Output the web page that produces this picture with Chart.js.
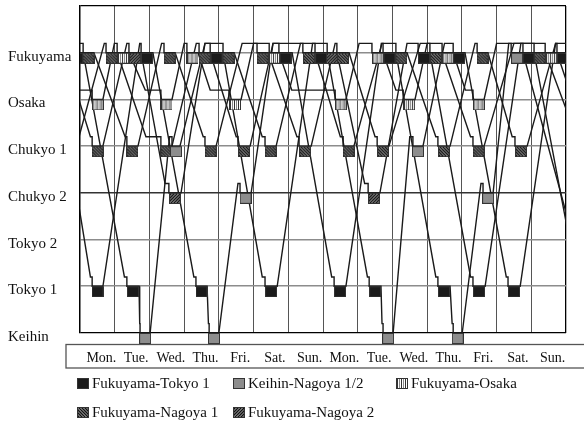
<!DOCTYPE html>
<html>
<head>
<meta charset="utf-8">
<script src="https://cdn.jsdelivr.net/npm/chart.js@4.4.0/dist/chart.umd.min.js"></script>
<style>
  html, body { margin: 0; padding: 0; background: #fff; }
  canvas { display: block; }
</style>
</head>
<body>
<canvas id="myChart" width="584" height="421"></canvas>
<script>
// rows of the diagram, bottom to top
const rowNames = ['Keihin', 'Tokyo 1', 'Tokyo 2', 'Chukyo 2', 'Chukyo 1', 'Osaka', 'Fukuyama'];
const dayNames = ['Mon.', 'Tue.', 'Wed.', 'Thu.', 'Fri.', 'Sat.', 'Sun.',
                  'Mon.', 'Tue.', 'Wed.', 'Thu.', 'Fri.', 'Sat.', 'Sun.'];

const loadNames = { T1: 'Fukuyama-Tokyo 1', KN: 'Keihin-Nagoya 1/2', OS: 'Fukuyama-Osaka',
                    N1: 'Fukuyama-Nagoya 1', N2: 'Fukuyama-Nagoya 2' };

// one stop = [arrive, start of work, end of work, place, load]  (days)
const truckOsaka = [
    [-0.1, 0.35, 0.66, 'Osaka', 'OS'],
    [0.99, 1.07, 1.41, 'Fukuyama', 'OS'],
    [1.88, 2.33, 2.65, 'Osaka', 'OS'],
    [3.0, 3.08, 3.40, 'Fukuyama', 'OS'],
    [3.75, 4.29, 4.64, 'Osaka', 'OS'],
    [5.0, 5.45, 5.73, 'Fukuyama', 'OS'],
    [6.1, 7.35, 7.66, 'Osaka', 'OS'],
    [8.04, 8.41, 8.73, 'Fukuyama', 'OS'],
    [9.1, 9.31, 9.65, 'Osaka', 'OS'],
    [10.0, 10.43, 10.75, 'Fukuyama', 'OS'],
    [11.1, 11.32, 11.64, 'Osaka', 'OS'],
    [12.0, 13.40, 13.74, 'Fukuyama', 'OS'],
    [14.1, 14.4, 14.7, 'Osaka', null]
];

const truckTokyoA = [
    [-1.0, -1.0, -0.75, 'Fukuyama', null],
    [0.3, 0.35, 0.66, 'Tokyo 1', 'T1'],
    [1.72, 1.76, 2.10, 'Fukuyama', 'T1'],
    [3.28, 3.34, 3.66, 'Tokyo 1', 'T1'],
    [3.70, 3.72, 4.00, 'Keihin', 'KN'],
    [4.55, 4.61, 4.93, 'Chukyo 2', 'KN'],
    [5.56, 5.73, 6.11, 'Fukuyama', 'T1'],
    [7.25, 7.32, 7.66, 'Tokyo 1', 'T1'],
    [8.68, 8.73, 9.10, 'Fukuyama', 'T1'],
    [10.25, 10.31, 10.66, 'Tokyo 1', 'T1'],
    [10.72, 10.75, 11.01, 'Keihin', 'KN'],
    [11.55, 11.61, 11.90, 'Chukyo 2', 'KN'],
    [12.35, 12.42, 12.76, 'Fukuyama', 'KN'],
    [14.5, 14.5, 14.8, 'Tokyo 1', null]
];

const truckTokyoB = [
    [-0.4, -0.25, 0.09, 'Fukuyama', 'T1'],
    [1.28, 1.35, 1.70, 'Tokyo 1', 'T1'],
    [1.72, 1.73, 2.02, 'Keihin', 'KN'],
    [2.58, 2.65, 2.88, 'Chukyo 1', 'KN'],
    [3.6, 3.75, 4.12, 'Fukuyama', 'T1'],
    [5.25, 5.33, 5.68, 'Tokyo 1', 'T1'],
    [6.7, 6.77, 7.12, 'Fukuyama', 'T1'],
    [8.28, 8.33, 8.67, 'Tokyo 1', 'T1'],
    [8.70, 8.73, 9.02, 'Keihin', 'KN'],
    [9.5, 9.59, 9.88, 'Chukyo 1', 'KN'],
    [10.5, 10.75, 11.09, 'Fukuyama', 'T1'],
    [12.28, 12.33, 12.68, 'Tokyo 1', 'T1'],
    [13.7, 13.74, 14.08, 'Fukuyama', 'T1'],
    [15.2, 15.3, 15.6, 'Tokyo 1', null]
];

const truckNagoya2 = [
    [-0.8, -0.8, -0.45, 'Fukuyama', null],
    [0.3, 0.35, 0.66, 'Chukyo 1', 'N1'],
    [1.35, 1.41, 1.76, 'Fukuyama', 'N2'],
    [2.45, 2.56, 2.91, 'Chukyo 2', 'N2'],
    [3.6, 4.12, 4.44, 'Fukuyama', 'N1'],
    [5.25, 5.33, 5.65, 'Chukyo 1', 'N1'],
    [6.35, 7.12, 7.40, 'Fukuyama', 'N2'],
    [8.2, 8.30, 8.64, 'Chukyo 2', 'N2'],
    [9.42, 9.74, 10.08, 'Fukuyama', 'T1'],
    [11.25, 11.32, 11.67, 'Tokyo 1', 'T1'],
    [12.7, 12.76, 13.08, 'Fukuyama', 'T1'],
    [14.3, 14.3, 14.6, 'Tokyo 1', null]
];

const truckNagoyaA = [
    [-1.0, -1.0, -0.8, 'Chukyo 1', null],
    [-0.2, 0.09, 0.40, 'Fukuyama', 'N1'],
    [1.3, 1.35, 1.67, 'Chukyo 1', 'N1'],
    [2.35, 2.42, 2.74, 'Fukuyama', 'N1'],
    [3.55, 3.60, 3.92, 'Chukyo 1', 'N1'],
    [4.67, 5.10, 5.42, 'Fukuyama', 'N1'],
    [6.25, 6.31, 6.66, 'Chukyo 1', 'N1'],
    [7.35, 7.40, 7.75, 'Fukuyama', 'N1'],
    [8.5, 8.56, 8.90, 'Chukyo 1', 'N1'],
    [9.8, 10.08, 10.43, 'Fukuyama', 'N1'],
    [11.25, 11.32, 11.64, 'Chukyo 1', 'N1'],
    [12.5, 13.08, 13.40, 'Fukuyama', 'N1'],
    [14.3, 14.3, 14.6, 'Chukyo 1', null]
];

const truckNagoyaB = [
    [-0.5, -0.5, -0.1, 'Chukyo 1', null],
    [0.7, 0.75, 1.07, 'Fukuyama', 'N1'],
    [1.9, 2.33, 2.65, 'Chukyo 1', 'N1'],
    [3.35, 3.43, 3.75, 'Fukuyama', 'N1'],
    [4.5, 4.55, 4.90, 'Chukyo 1', 'N1'],
    [5.56, 6.42, 6.77, 'Fukuyama', 'N1'],
    [7.5, 7.58, 7.89, 'Chukyo 1', 'N1'],
    [8.7, 9.10, 9.42, 'Fukuyama', 'N1'],
    [10.25, 10.31, 10.66, 'Chukyo 1', 'N1'],
    [11.38, 11.44, 11.75, 'Fukuyama', 'N1'],
    [12.45, 12.53, 12.88, 'Chukyo 1', 'N1'],
    [13.7, 14.2, 14.5, 'Fukuyama', null]
];

const trucks = [truckOsaka, truckTokyoA, truckTokyoB, truckNagoya2, truckNagoyaA, truckNagoyaB];

// trucks wait a little above the row before they start work
const waitLift = 0.2;
const serif = "'Liberation Serif', 'Times New Roman', serif";

function routePoints(stops) {
    const pts = [];
    stops.forEach(([arrive, start, end, place]) => {
        const row = rowNames.indexOf(place);
        pts.push({ x: arrive, y: row + waitLift });
        if (start > arrive) pts.push({ x: start, y: row + waitLift });
        pts.push({ x: start, y: row });
        pts.push({ x: end, y: row });
    });
    return pts;
}

// square swatches with the fill pattern of each load
function drawSwatch(g, type, w, h) {
    g.save();
    g.beginPath();
    g.rect(0, 0, w, h);
    g.clip();
    g.fillStyle = type === 'T1' ? '#1b1b1b' : type === 'KN' ? '#8d8d8d' : '#fff';
    g.fillRect(0, 0, w, h);
    g.strokeStyle = '#111';
    g.lineWidth = 1.6;
    if (type === 'OS') {
        g.lineWidth = 1;
        for (let x = 1.5; x < w; x += 2) {
            g.strokeStyle = x % 4 < 2 ? '#333' : '#888';
            g.beginPath(); g.moveTo(x, 0); g.lineTo(x, h); g.stroke();
        }
    }
    if (type === 'N1') {
        for (let k = -h; k < w + h; k += 3) {
            g.beginPath(); g.moveTo(k, 0); g.lineTo(k + h, h); g.stroke();
        }
    }
    if (type === 'N2') {
        for (let k = 0; k < w + h; k += 3) {
            g.beginPath(); g.moveTo(k, 0); g.lineTo(k - h, h); g.stroke();
        }
    }
    g.restore();
    g.strokeStyle = '#333';
    g.lineWidth = 1;
    g.strokeRect(0.5, 0.5, w - 1, h - 1);
}

// the marker hangs below the row line
function makeMarker(type) {
    const w = 12, h = 11;
    const c = document.createElement('canvas');
    c.width = w;
    c.height = h * 2;
    const g = c.getContext('2d');
    g.translate(0, h);
    drawSwatch(g, type, w, h);
    return c;
}

const lineSets = trucks.map(stops => ({
    type: 'scatter',
    data: routePoints(stops),
    showLine: true,
    borderColor: '#1a1a1a',
    borderWidth: 1.4,
    pointRadius: 0,
    tension: 0,
    order: 1
}));

const markerSets = Object.keys(loadNames).map(type => {
    const pts = [];
    trucks.forEach(stops => stops.forEach(([arrive, start, end, place, load]) => {
        if (load === type) pts.push({ x: (start + end) / 2, y: rowNames.indexOf(place) });
    }));
    return {
        type: 'scatter',
        label: loadNames[type],
        data: pts,
        pointStyle: makeMarker(type),
        pointRadius: 6,
        clip: { left: 0, right: 0, top: 30, bottom: 30 },
        order: 0
    };
});

// legend and day box
const legendSlots = [[77, 378], [233, 378], [396, 378], [77, 407], [233, 407]];

const decor = {
    id: 'decor',
    afterDraw(chart) {
        const { ctx, chartArea } = chart;
        ctx.save();
        ctx.strokeStyle = '#555';
        ctx.lineWidth = 1.3;
        ctx.strokeRect(chartArea.left - 14, chartArea.bottom + 11.5, chart.width, 23.5);
        ctx.font = '15px ' + serif;
        ctx.fillStyle = '#111';
        ctx.textBaseline = 'middle';
        Object.keys(loadNames).forEach((type, i) => {
            const [x, y] = legendSlots[i];
            ctx.save();
            ctx.translate(x, y);
            drawSwatch(ctx, type, 12, 11);
            ctx.restore();
            ctx.fillText(loadNames[type], x + 15, y + 6);
        });
        ctx.restore();
    }
};

const ctx = document.getElementById('myChart').getContext('2d');
const myChart = new Chart(ctx, {
    type: 'scatter',
    data: { datasets: [...markerSets, ...lineSets] },
    options: {
        responsive: false,
        animation: false,
        events: [],
        layout: { padding: { left: 8, top: 6, right: 18, bottom: 48 }, autoPadding: false },
        plugins: { legend: { display: false }, tooltip: { enabled: false } },
        scales: {
            x: {
                type: 'linear', min: 0, max: 14, position: 'bottom',
                ticks: { stepSize: 1, display: false },
                grid: {
                    color: c => (c.tick.value === 0 || c.tick.value === 14) ? '#000' : '#555',
                    lineWidth: c => (c.tick.value === 0 || c.tick.value === 14) ? 1.3 : 1,
                    drawTicks: false
                },
                border: { display: false },
                afterFit: s => { s.height = 0; }
            },
            days: {
                type: 'linear', min: 0, max: 14, position: 'bottom',
                afterBuildTicks: s => { s.ticks = dayNames.map((d, i) => ({ value: i + 0.5 })); },
                ticks: {
                    callback: (v, i) => dayNames[i],
                    font: { family: serif, size: 14 },
                    color: '#111',
                    padding: 16.5,
                    labelOffset: 4,
                    autoSkip: false,
                    maxRotation: 0
                },
                grid: { display: false, drawTicks: false },
                border: { display: false },
                afterFit: s => { s.height = 40; s.paddingLeft = 0; s.paddingRight = 0; }
            },
            y: {
                type: 'linear', min: 0, max: 7,
                ticks: {
                    stepSize: 1,
                    callback: v => rowNames[v] ?? '',
                    font: { family: serif, size: 15 },
                    color: '#111',
                    crossAlign: 'far',
                    labelOffset: 4,
                    padding: 0
                },
                grid: {
                    color: c => (c.tick.value === 0 || c.tick.value === 7) ? '#000'
                        : c.tick.value === 3 ? '#333' : '#8c8c8c',
                    lineWidth: c => (c.tick.value === 0 || c.tick.value === 7) ? 1.3 : 1.6,
                    drawTicks: false
                },
                border: { color: '#000', width: 1.3 },
                afterFit: s => { s.width = 72; s.paddingTop = 0; s.paddingBottom = 0; }
            }
        }
    },
    plugins: [decor]
});
</script>
</body>
</html>
